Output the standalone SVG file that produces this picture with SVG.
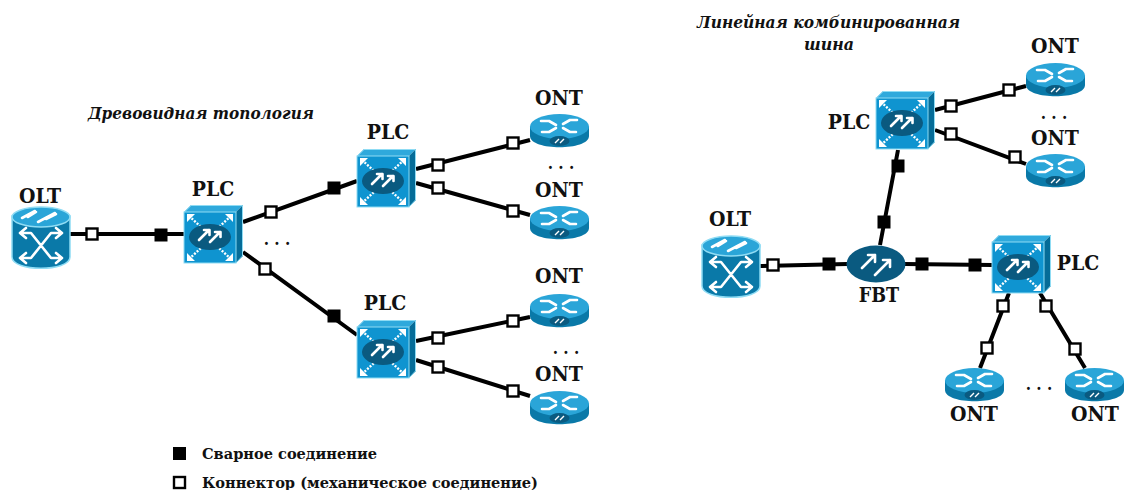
<svg xmlns="http://www.w3.org/2000/svg" width="1124" height="490" viewBox="0 0 1124 490">
<style>
text{font-family:"DejaVu Serif","Liberation Serif",serif;fill:#111}
.lbl{font-size:21px;font-weight:700;text-anchor:middle;font-stretch:condensed}
.ttl{font-size:16px;font-weight:700;font-style:italic}
.leg{font-size:14.5px;font-weight:700}
.dots{font-size:17px;font-weight:700;text-anchor:middle;font-stretch:condensed}
.w{fill:none;stroke:#000;stroke-width:4}
.o{fill:#fff;stroke:#000;stroke-width:2.4}
.f{fill:#000}
.a{fill:none;stroke:#fff;stroke-width:2.6;stroke-linecap:round;stroke-linejoin:round}
.d{fill:none;stroke:#fff;stroke-width:2.4;stroke-dasharray:2 1.5}
.h{fill:#fff}
</style>
<defs>
<g id="olt">
<path d="M0,9 V50 C0,65 58,65 58,50 V9Z" fill="#0a79a8" stroke="#8fdcf4" stroke-width="1.5"/>
<ellipse cx="29" cy="10" rx="29" ry="10" fill="#2aa5d8" stroke="#8fdcf4" stroke-width="1.500"/>
<path class="a" d="M10,11 L23,4 M26,15 L43,6 M16,10 L24,5 M34,12 L44,7" stroke-width="3.200"/>
<path class="a" d="M9,26 H19 L39,51 H49 M9,51 H19 L39,26 H49 M14,21 L8,26 L14,31 M44,21 L50,26 L44,31 M14,46 L8,51 L14,56 M44,46 L50,51 L44,56"/>
</g>
<g id="plc">
<path d="M0,7 L7,0 H59 L52,7Z" fill="#2fa9dc"/>
<path d="M52,7 L59,0 V51 L52,58Z" fill="#056c98"/>
<rect x="0" y="7" width="52" height="51" fill="#0f94d0" stroke="#8fdcf4"/>
<path d="M0.5,7 L7,0.5 H58.500 V51 L52,58" fill="none" stroke="#8fdcf4"/>
<path class="d" d="M5,11 L17,22 M47,11 L35,22 M5,54 L17,43 M47,54 L35,43"/>
<path class="h" d="M3,9 H11 L3,17Z M49,9 H41 L49,17Z M3,56 H11 L3,48Z M49,56 H41 L49,48Z"/>
<ellipse cx="26" cy="32" rx="21" ry="13" fill="#0a5a80"/>
<path class="a" d="M15,35 L25,25 M26,37 L36,27 M20,25 H25.500 V30 M31,27 H36.500 V32"/>
</g>
<g id="ont">
<path d="M0,13 V22 C0,37 59,37 59,22 V13Z" fill="#0a79a8"/>
<ellipse cx="29.500" cy="12.500" rx="29.500" ry="12.500" fill="#2aa5d8"/>
<path class="a" d="M11,7 H19 L26,11 M47,6 H40 L33,10 M12,18 H19 L26,14 M46,18 H40 L33,14" stroke-width="3"/>
<ellipse cx="29.500" cy="27" rx="10" ry="5" fill="#0a5a80"/>
<path d="M25,29 L29,25 M30,29 L34,25" fill="none" stroke="#fff" stroke-width="1.400"/>
</g>
<g id="fbt">
<ellipse cx="0" cy="0" rx="29.500" ry="18.500" fill="#0a5a80"/>
<path class="a" d="M-14,4 L-1,-9 M-1,11 L14,-4 M-8,-9 H-1 V-2 M7,-4 H14 V3" stroke-width="3.400"/>
</g>
<rect id="op" x="-5.500" y="-5.500" width="11" height="11" class="o"/>
<rect id="fl" x="-6.500" y="-6.500" width="13" height="13" class="f"/>
</defs>
<rect width="1124" height="490" fill="#fff"/>
<g id="connectors">
<path class="w" d="M70,234 H184 M243,222 L357,181 M243,252 L357,335 M416,169 L530,140 M416,183 L530,215 M416,341 L530,317 M416,360 L530,396"/>
<path class="w" d="M760,266 L847,264 M880,245 L898,150 M905,264 L992,265 M935,110 L1026,86 M935,130 L1026,164 M1009,293 L980,368 M1040,293 L1085,368"/>
<use href="#op" x="92" y="234"/><use href="#fl" x="161" y="235"/>
<use href="#op" x="271" y="212"/><use href="#fl" x="334" y="188"/>
<use href="#op" x="265" y="269"/><use href="#fl" x="334" y="316"/>
<use href="#op" x="438" y="165"/><use href="#op" x="513" y="143"/>
<use href="#op" x="438" y="188"/><use href="#op" x="513" y="211"/>
<use href="#op" x="438" y="338"/><use href="#op" x="513" y="321"/>
<use href="#op" x="438" y="367"/><use href="#op" x="513" y="391"/>
<use href="#op" x="773" y="265"/><use href="#fl" x="829" y="264"/>
<use href="#fl" x="884" y="222"/><use href="#fl" x="898" y="166"/>
<use href="#fl" x="922" y="264"/><use href="#fl" x="975" y="265"/>
<use href="#op" x="951" y="106"/><use href="#op" x="1009" y="90"/>
<use href="#op" x="951" y="134"/><use href="#op" x="1015" y="157"/>
<use href="#op" x="1003" y="306"/><use href="#op" x="987" y="348"/>
<use href="#op" x="1046" y="306"/><use href="#op" x="1075" y="349"/>
</g>
<g id="olt1"><use href="#olt" x="12" y="207"/><text class="lbl" x="40" y="203">OLT</text></g>
<g id="plc1"><use href="#plc" x="184" y="205"/><text class="lbl" x="213" y="196">PLC</text></g>
<g id="plc2"><use href="#plc" x="357" y="149"/><text class="lbl" x="388" y="139">PLC</text></g>
<g id="plc3"><use href="#plc" x="357" y="320"/><text class="lbl" x="385" y="310">PLC</text></g>
<g id="ont1"><use href="#ont" x="530" y="114"/><text class="lbl" x="559" y="105">ONT</text></g>
<g id="ont2"><use href="#ont" x="530" y="206"/><text class="lbl" x="559" y="197">ONT</text></g>
<g id="ont3"><use href="#ont" x="530" y="294"/><text class="lbl" x="559" y="283">ONT</text></g>
<g id="ont4"><use href="#ont" x="530" y="391"/><text class="lbl" x="559" y="381">ONT</text></g>
<g id="olt2"><use href="#olt" x="702" y="236"/><text class="lbl" x="730" y="226">OLT</text></g>
<g id="fbt1"><use href="#fbt" x="876" y="264"/><text class="lbl" x="879" y="302" style="font-size:19.5px">FBT</text></g>
<g id="plc4"><use href="#plc" x="876" y="91"/><text class="lbl" x="849" y="129">PLC</text></g>
<g id="plc5"><use href="#plc" x="992" y="235"/><text class="lbl" x="1078" y="270">PLC</text></g>
<g id="ont5"><use href="#ont" x="1026" y="63"/><text class="lbl" x="1055" y="53">ONT</text></g>
<g id="ont6"><use href="#ont" x="1026" y="154"/><text class="lbl" x="1055" y="145">ONT</text></g>
<g id="ont7"><use href="#ont" x="945" y="368"/><text class="lbl" x="974" y="421">ONT</text></g>
<g id="ont8"><use href="#ont" x="1065" y="368"/><text class="lbl" x="1095" y="421">ONT</text></g>
<text class="dots" x="277" y="245">. . .</text>
<text class="dots" x="561" y="169">. . .</text>
<text class="dots" x="566" y="354">. . .</text>
<text class="dots" x="1039" y="390">. . .</text>
<text class="dots" x="1054" y="119">. . .</text>
<text class="ttl" x="88" y="119" textLength="226" lengthAdjust="spacingAndGlyphs">Древовидная топология</text>
<text class="ttl" x="697" y="28" textLength="263" lengthAdjust="spacingAndGlyphs">Линейная комбинированная</text>
<text class="ttl" x="804" y="50" textLength="50" lengthAdjust="spacingAndGlyphs">шина</text>
<g id="legend">
<rect x="173" y="447" width="13" height="13" class="f"/>
<rect x="174" y="477" width="11" height="11" class="o"/>
<text class="leg" x="202" y="459" textLength="175" lengthAdjust="spacingAndGlyphs">Сварное соединение</text>
<text class="leg" x="202" y="488" textLength="336" lengthAdjust="spacingAndGlyphs">Коннектор (механическое соединение)</text>
</g>
</svg>
